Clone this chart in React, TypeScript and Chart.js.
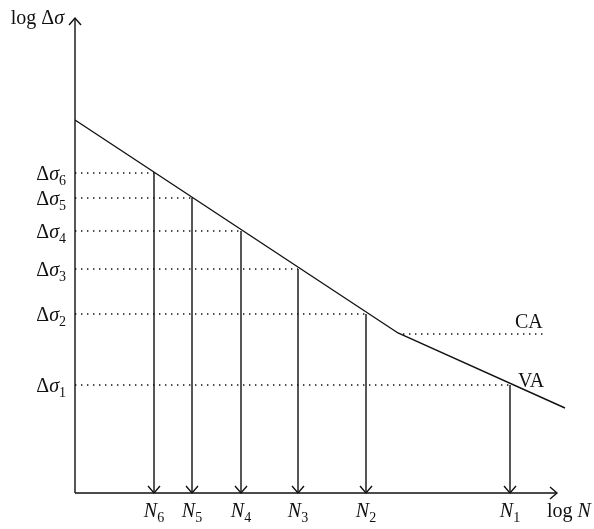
import React, { useEffect, useRef } from "react";
import { Chart, registerables } from "chart.js";

Chart.register(...registerables);

// Stress levels Δσ1..Δσ6 (log Δσ, arbitrary units)
const levelLabels = ["1", "2", "3", "4", "5", "6"];
const stressLevels = [108, 179, 224, 262, 295, 320];
// Corresponding lives N1..N6 (log N, arbitrary units)
const cycleCounts = [435, 291, 223, 166, 117, 79];
// S-N curve with knee
const curveX = [0, 323, 490];
const curveY = [373, 160, 85];
// Constant-amplitude limit (CA)
const caLevel = 159;
const caStart = 328;
const caEnd = 470;
// axis extents
const xMax = 500;
const yMax = 475;
const xAxisTip = 482;
const yAxisTip = 475;

const SERIF = "'Liberation Serif', 'DejaVu Serif', serif";

type Part = { t: string; italic?: boolean; sub?: boolean };

function drawRich(ctx: CanvasRenderingContext2D, parts: Part[], x: number, y: number, align: "left" | "right" | "center", size = 20, subSize = 14) {
  const fontOf = (p: Part) => `${p.italic ? "italic " : ""}${p.sub ? subSize : size}px ${SERIF}`;
  let total = 0;
  const widths = parts.map((p) => {
    ctx.font = fontOf(p);
    const w = ctx.measureText(p.t).width;
    total += w;
    return w;
  });
  let cx = align === "left" ? x : align === "right" ? x - total : x - total / 2;
  ctx.textBaseline = "alphabetic";
  ctx.textAlign = "left";
  parts.forEach((p, i) => {
    ctx.font = fontOf(p);
    ctx.fillText(p.t, cx, p.sub ? y + 5 : y);
    cx += widths[i];
  });
}

function arrowHead(ctx: CanvasRenderingContext2D, x: number, y: number, dir: "up" | "down" | "right") {
  const d = 7, w = 6;
  ctx.beginPath();
  if (dir === "up") {
    ctx.moveTo(x - w, y + d); ctx.lineTo(x, y); ctx.lineTo(x + w, y + d);
  } else if (dir === "down") {
    ctx.moveTo(x - w, y - d); ctx.lineTo(x, y); ctx.lineTo(x + w, y - d);
  } else {
    ctx.moveTo(x - d, y - w); ctx.lineTo(x, y); ctx.lineTo(x - d, y + w);
  }
  ctx.stroke();
}

const decorPlugin = {
  id: "decor",
  afterDatasetsDraw(chart: any) {
    const ctx: CanvasRenderingContext2D = chart.ctx;
    const xs = chart.scales.x;
    const ys = chart.scales.y;
    const ox = xs.getPixelForValue(0);
    const oy = ys.getPixelForValue(0);
    ctx.save();
    ctx.strokeStyle = "#111";
    ctx.fillStyle = "#111";
    ctx.lineWidth = 1.4;
    ctx.setLineDash([]);
    // axes
    const xt = xs.getPixelForValue(xAxisTip);
    const yt = ys.getPixelForValue(yAxisTip);
    ctx.beginPath();
    ctx.moveTo(ox, oy); ctx.lineTo(xt, oy);
    ctx.moveTo(ox, oy); ctx.lineTo(ox, yt);
    ctx.stroke();
    arrowHead(ctx, xt, oy, "right");
    arrowHead(ctx, ox, yt, "up");
    // vertical arrowheads
    cycleCounts.forEach((n) => arrowHead(ctx, xs.getPixelForValue(n), oy, "down"));

    // y labels
    stressLevels.forEach((s, i) => {
      const py = ys.getPixelForValue(s);
      drawRich(ctx, [{ t: "Δ" }, { t: "σ", italic: true }, { t: levelLabels[i], sub: true }], ox - 9, py + 7, "right");
    });
    // x labels
    cycleCounts.forEach((n, i) => {
      const px = xs.getPixelForValue(n);
      drawRich(ctx, [{ t: "N", italic: true }, { t: levelLabels[i], sub: true }], px, oy + 24, "center");
    });
    // axis titles
    drawRich(ctx, [{ t: "log Δ" }, { t: "σ", italic: true }], ox - 11, yt + 6, "right");
    drawRich(ctx, [{ t: "log " }, { t: "N", italic: true }], xt - 10, oy + 24, "left");
    // CA / VA
    drawRich(ctx, [{ t: "CA" }], xs.getPixelForValue(caEnd) - 30, ys.getPixelForValue(caLevel) - 6, "left");
    drawRich(ctx, [{ t: "VA" }], xs.getPixelForValue(cycleCounts[0]) + 8, ys.getPixelForValue(stressLevels[0]) + 2, "left");
    ctx.restore();
  },
};

export default function App() {
  const ref = useRef<HTMLCanvasElement | null>(null);
  useEffect(() => {
    document.body.style.margin = "0";
    const solid = { borderColor: "#111", borderWidth: 1.4, pointRadius: 0, showLine: true, fill: false };
    const dotted = { ...solid, borderWidth: 1.4, borderDash: [1.4, 4.6] };
    const datasets: any[] = [
      { ...solid, data: curveX.map((x, i) => ({ x, y: curveY[i] })) },
      { ...dotted, data: [{ x: caStart, y: caLevel }, { x: caEnd, y: caLevel }] },
    ];
    stressLevels.forEach((s, i) => {
      datasets.push({ ...dotted, data: [{ x: 0, y: s }, { x: cycleCounts[i], y: s }] });
      datasets.push({ ...solid, data: [{ x: cycleCounts[i], y: s }, { x: cycleCounts[i], y: 0 }] });
    });
    const chart = new Chart(ref.current!, {
      type: "scatter",
      data: { datasets },
      options: {
        animation: false,
        responsive: false,
        layout: { padding: { left: 75, right: 19, top: 18, bottom: 36 } },
        plugins: { legend: { display: false }, tooltip: { enabled: false } },
        scales: {
          x: { type: "linear", min: 0, max: xMax, display: false },
          y: { type: "linear", min: 0, max: yMax, display: false },
        },
      } as any,
      plugins: [decorPlugin],
    });
    return () => chart.destroy();
  }, []);
  return (
    <div style={{ width: 594, height: 529, background: "#fff" }}>
      <canvas ref={ref} width={594} height={529} style={{ display: "block" }} />
    </div>
  );
}
